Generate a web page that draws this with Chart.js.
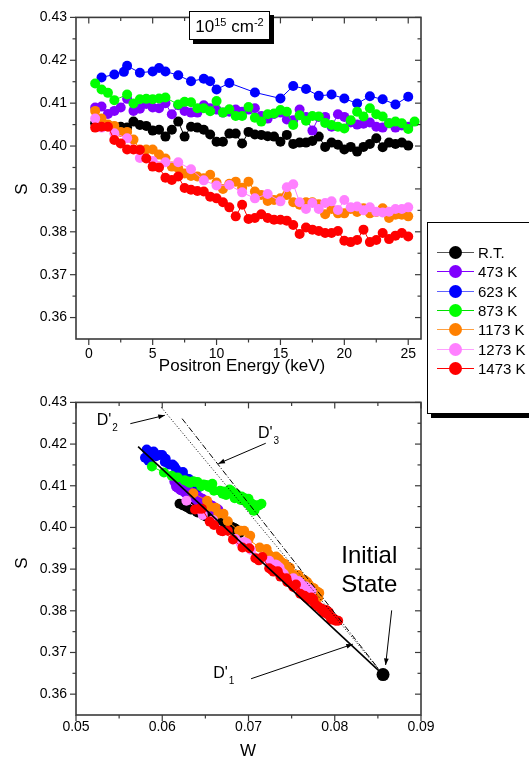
<!DOCTYPE html>
<html>
<head>
<meta charset="utf-8">
<script src="https://cdn.jsdelivr.net/npm/chart.js@4.4.0/dist/chart.umd.min.js"></script>
<style>
body { margin: 0; background: #fff; width: 529px; height: 761px; overflow: hidden; position: relative; font-family: "Liberation Sans", Arial, sans-serif; }
canvas { position: absolute; left: 0; }
#top { top: 0; }
#bottom { top: 385px; }
.box { position: absolute; box-sizing: border-box; border: 1px solid #000; background: #fff; box-shadow: 4px 4px 0 #000; }
#dose { left: 189px; top: 11px; width: 81px; height: 29px; font-size: 17px; line-height: 29px; text-align: center; }
#dose sup { font-size: 11px; vertical-align: 6px; line-height: 0; }
#legend { left: 427px; top: 222px; width: 120px; height: 192px; }
.row { position: absolute; left: 0; height: 19px; }
.row .ln { position: absolute; left: 9px; top: 9px; width: 37px; height: 1px; }
.row .mk { position: absolute; left: 21px; top: 3px; width: 13px; height: 13px; border-radius: 50%; }
.row span { position: absolute; left: 50px; top: 0; font-size: 15px; line-height: 19px; white-space: nowrap; }
</style>
</head>
<body>
<canvas id="top" width="529" height="385"></canvas>
<canvas id="bottom" width="529" height="376"></canvas>
<div id="dose" class="box">10<sup>15</sup> cm<sup>-2</sup></div>
<div id="legend" class="box"></div>
<script>
// tick labels
const energyTicks = [0, 5, 10, 15, 20, 25];
const wTicks = [0.05, 0.06, 0.07, 0.08, 0.09];
const sTicks = [0.36, 0.37, 0.38, 0.39, 0.40, 0.41, 0.42, 0.43];

// positron energy grid (keV) shared by most series
const energyGrid = [0.5,1,1.5,2,2.5,3,3.5,4,4.5,5,5.5,6,6.5,7,7.5,8,8.5,9,9.5,10,10.5,11,11.5,12,12.5,13,13.5,14,14.5,15,15.5,16,16.5,17,17.5,18,18.5,19,19.5,20,20.5,21,21.5,22,22.5,23,23.5,24,24.5,25];

// R.T.
const sRT = [0.4053,0.4049,0.4049,0.4045,0.4045,0.4043,0.4057,0.4049,0.4047,0.4036,0.4038,0.4022,0.4038,0.4057,0.4022,0.4045,0.4043,0.4038,0.4027,0.4010,0.4010,0.4029,0.4029,0.4006,0.4033,0.4027,
  0.4026,0.4023,0.4022,0.4010,0.4026,0.4005,0.4008,0.4008,0.4012,0.4022,0.3998,0.4008,0.4003,0.3992,0.3998,0.3987,0.3998,0.4005,0.4018,0.3997,0.4008,0.4005,0.4008,0.4001];
const wRT = [0.0624,0.0628,0.0634,0.0632,0.0638,0.0635,0.0620,0.0629,0.0636,0.0641,0.0645,0.0655,0.0640,0.0626,0.0661,0.0637,0.0633,0.0644,0.0650,0.0667,0.0673,0.0648,0.0654,0.0671,0.0649,0.0656,
  0.0652,0.0659,0.0656,0.0668,0.0657,0.0677,0.0670,0.0675,0.0666,0.0660,0.0680,0.0674,0.0679,0.0686,0.0684,0.0690,0.0679,0.0673,0.0664,0.0685,0.0669,0.0676,0.0671,0.0681];

// 473 K
const s473 = [0.4090,0.4092,0.4075,0.4082,0.4090,0.4110,0.4082,0.4087,0.4098,0.4090,0.4088,0.4100,0.4074,0.4095,0.4082,0.4078,0.4078,0.4095,0.4088,0.4085,0.4078,0.4080,0.4085,0.4080,0.4085,0.4088,
  0.4070,0.4064,0.4075,0.4078,0.4062,0.4060,0.4085,0.4068,0.4036,0.4068,0.4068,0.4045,0.4074,0.4068,0.4055,0.4050,0.4052,0.4055,0.4045,0.4043,0.4053,0.4043,0.4048,0.4045];
const w473 = [0.0622,0.0629,0.0633,0.0637,0.0630,0.0614,0.0627,0.0632,0.0616,0.0621,0.0624,0.0620,0.0642,0.0618,0.0635,0.0631,0.0639,0.0625,0.0631,0.0626,0.0638,0.0629,0.0634,0.0637,0.0627,0.0623,
  0.0645,0.0641,0.0640,0.0632,0.0651,0.0644,0.0633,0.0646,0.0662,0.0639,0.0644,0.0656,0.0635,0.0647,0.0655,0.0652,0.0658,0.0649,0.0663,0.0658,0.0651,0.0665,0.0654,0.0660];

// 623 K
const e623 = [1,2,2.75,3,4,5,5.5,6,7,8,9,9.5,10,11,13,15,16,17,18,19,20,21,22,23,24,25];
const s623 = [0.4160,0.4167,0.4173,0.4187,0.4171,0.4174,0.4182,0.4174,0.4165,0.4151,0.4157,0.4151,0.4132,0.4147,0.4125,0.4111,0.4140,0.4133,0.4117,0.4120,0.4111,0.4099,0.4116,0.4109,0.4097,0.4115];
const w623 = [0.0584,0.0580,0.0586,0.0582,0.0593,0.0597,0.0590,0.0600,0.0604,0.0608,0.0603,0.0612,0.0620,0.0614,0.0622,0.0630,0.0616,0.0624,0.0629,0.0626,0.0633,0.0641,0.0631,0.0636,0.0643,0.0628];

// 873 K
const e873 = [0.5,1,1.5,2,3,3.5,4,4.5,5,5.5,6,7,7.5,8,8.5,9,9.5,10,10.5,11,11.5,12,12.5,13,13.5,14,14.5,15,15.5,16,16.5,17,17.5,18,18.5,19,19.5,20,20.5,21,21.5,22,22.5,23,23.5,24,24.5,25,25.5];
const s873 = [0.4146,0.4132,0.4124,0.4107,0.4120,0.4099,0.4109,0.4110,0.4109,0.4111,0.4113,0.4097,0.4103,0.4102,0.4088,0.4088,0.4081,0.4105,0.4078,0.4086,0.4070,0.4070,0.4091,0.4066,0.4057,
  0.4074,0.4076,0.4084,0.4080,0.4049,0.4072,0.4059,0.4070,0.4069,0.4054,0.4049,0.4045,0.4041,0.4060,0.4080,0.4069,0.4088,0.4074,0.4069,0.4053,0.4057,0.4053,0.4040,0.4057];
const w873 = [0.0588,0.0602,0.0611,0.0632,0.0618,0.0645,0.0638,0.0630,0.0641,0.0636,0.0626,0.0654,0.0648,0.0651,0.0660,0.0667,0.0670,0.0658,0.0674,0.0671,0.0684,0.0690,0.0678,0.0691,0.0702,
  0.0688,0.0685,0.0681,0.0683,0.0703,0.0693,0.0699,0.0695,0.0697,0.0701,0.0703,0.0705,0.0707,0.0698,0.0686,0.0696,0.0680,0.0692,0.0700,0.0712,0.0704,0.0708,0.0706,0.0715];

// 1173 K
const s1173 = [0.4082,0.4064,0.4050,0.4047,0.4033,0.4033,0.4015,0.3992,0.3992,0.3992,0.3980,0.3971,0.3952,0.3948,0.3936,0.3930,0.3929,0.3925,0.3933,0.3915,0.3900,0.3912,0.3917,0.3903,0.3917,0.3894,
  0.3886,0.3872,0.3874,0.3878,0.3886,0.3869,0.3863,0.3869,0.3869,0.3864,0.3841,0.3853,0.3843,0.3843,0.3853,0.3846,0.3855,0.3843,0.3846,0.3855,0.3832,0.3840,0.3840,0.3836];
const w1173 = [0.0636,0.0652,0.0655,0.0662,0.0665,0.0671,0.0676,0.0689,0.0695,0.0691,0.0702,0.0700,0.0713,0.0721,0.0723,0.0732,0.0727,0.0735,0.0724,0.0739,0.0744,0.0742,0.0733,0.0748,0.0738,0.0747,
  0.0753,0.0761,0.0765,0.0757,0.0758,0.0767,0.0770,0.0763,0.0768,0.0766,0.0779,0.0776,0.0782,0.0777,0.0771,0.0780,0.0775,0.0778,0.0774,0.0769,0.0781,0.0779,0.0776,0.0780];

// 1273 K
const e1273 = [0.5,1,2,3,4,5,6,7,8,9,10,11,12,13,14,15,15.5,16,16.5,17,17.5,18,18.5,19,19.5,20,20.5,21,21.5,22,22.5,23,23.5,24,24.5,25];
const s1273 = [0.4064,0.4043,0.4030,0.4018,0.3972,0.3965,0.3962,0.3962,0.3946,0.3920,0.3908,0.3909,0.3892,0.3878,0.3888,0.3871,
  0.3904,0.3911,0.3869,0.3853,0.3867,0.3853,0.3867,0.3871,0.3851,0.3874,0.3857,0.3859,0.3850,0.3857,0.3847,0.3845,0.3847,0.3853,0.3853,0.3857];
const w1273 = [0.0628,0.0642,0.0647,0.0659,0.0685,0.0695,0.0691,0.0698,0.0703,0.0724,0.0728,0.0733,0.0739,0.0752,0.0741,0.0757,
  0.0736,0.0731,0.0754,0.0769,0.0760,0.0764,0.0756,0.0758,0.0771,0.0750,0.0762,0.0766,0.0767,0.0761,0.0773,0.0770,0.0768,0.0765,0.0769,0.0763];

// 1473 K
const s1473 = [0.4043,0.4045,0.4045,0.4014,0.4006,0.3992,0.3992,0.3991,0.3971,0.3952,0.3950,0.3926,0.3921,0.3929,0.3902,0.3898,0.3895,0.3894,0.3882,0.3878,0.3869,0.3857,0.3836,0.3863,0.3830,
  0.3832,0.3841,0.3832,0.3828,0.3828,0.3826,0.3816,0.3795,0.3810,0.3805,0.3802,0.3797,0.3797,0.3802,0.3779,0.3776,0.3781,0.3805,0.3776,0.3781,0.3797,0.3783,0.3791,0.3797,0.3789];
const w1473 = [0.0638,0.0643,0.0646,0.0655,0.0660,0.0668,0.0676,0.0670,0.0682,0.0693,0.0701,0.0708,0.0712,0.0716,0.0724,0.0727,0.0734,0.0729,0.0737,0.0744,0.0745,0.0752,0.0765,0.0755,0.0768,
  0.0773,0.0760,0.0767,0.0775,0.0770,0.0772,0.0777,0.0789,0.0781,0.0784,0.0786,0.0788,0.0793,0.0790,0.0796,0.0804,0.0799,0.0785,0.0801,0.0796,0.0789,0.0797,0.0792,0.0787,0.0794];

// initial state and the three D' lines in the S-W plane
const initialW = [0.0856], initialS = [0.3647];
const d1W = [0.0572, 0.0856], d1S = [0.4194, 0.3647];
const d2W = [0.0599, 0.0856], d2S = [0.4288, 0.3647];
const d3W = [0.0623, 0.0856], d3S = [0.4261, 0.3647];

const series = [
  { label: 'R.T.',   color: '#000000', line: '#555555', e: energyGrid, s: sRT,   w: wRT },
  { label: '473 K',  color: '#8000ff', line: '#8000ff', e: energyGrid, s: s473,  w: w473 },
  { label: '623 K',  color: '#0000ff', line: '#6060ff', e: e623,       s: s623,  w: w623 },
  { label: '873 K',  color: '#00ff00', line: '#00e000', e: e873,       s: s873,  w: w873 },
  { label: '1173 K', color: '#ff8000', line: '#ffa040', e: energyGrid, s: s1173, w: w1173 },
  { label: '1273 K', color: '#ff80ff', line: '#ffa0ff', e: e1273,      s: s1273, w: w1273 },
  { label: '1473 K', color: '#ff0000', line: '#ff0000', e: energyGrid, s: s1473, w: w1473 }
];

const FONT = '"Liberation Sans", Arial, sans-serif';
const zip = (xs, ys) => xs.map((v, i) => ({ x: v, y: ys[i] }));
const mids = arr => arr.slice(1).map((v, i) => (v + arr[i]) / 2);

// box, tick marks (outward left/bottom, inward top/right) and axis titles
const frame = {
  id: 'frame',
  afterDraw(chart, args, o) {
    const { ctx, chartArea: a, scales: { x, y } } = chart;
    ctx.save();
    ctx.strokeStyle = '#3a3a3a';
    ctx.lineWidth = 1.6;
    ctx.strokeRect(a.left, a.top, a.right - a.left, a.bottom - a.top);
    ctx.lineWidth = 1.2;
    const seg = (x1, y1, x2, y2) => { ctx.beginPath(); ctx.moveTo(x1, y1); ctx.lineTo(x2, y2); ctx.stroke(); };
    [[o.xTicks, 6], [mids(o.xTicks), 3.5]].forEach(([vals, len]) => vals.forEach(v => {
      const p = x.getPixelForValue(v);
      seg(p, a.bottom, p, a.bottom + len);
      seg(p, a.top, p, a.top + len);
    }));
    [[sTicks, 6], [mids(sTicks), 3.5]].forEach(([vals, len]) => vals.forEach(v => {
      const p = y.getPixelForValue(v);
      seg(a.left - len, p, a.left, p);
      seg(a.right - len, p, a.right, p);
    }));
    ctx.fillStyle = '#000';
    ctx.font = '17px ' + FONT;
    ctx.textAlign = 'center';
    ctx.textBaseline = 'middle';
    ctx.fillText(o.xTitle, o.xTitleAt[0], o.xTitleAt[1]);
    ctx.translate(o.yTitleAt[0], o.yTitleAt[1]);
    ctx.rotate(-Math.PI / 2);
    ctx.fillText('S', 0, 0);
    ctx.restore();
  }
};

// D' labels, arrows and the "Initial State" note (data coordinates)
const dLabels = [
  { w: 0.0524, s: 0.4257, sub: '2' },
  { w: 0.0711, s: 0.4225, sub: '3' },
  { w: 0.0659, s: 0.3650, sub: '1' }
];
const arrows = [
  [0.0563, 0.4249, 0.0603, 0.4269],
  [0.0720, 0.4202, 0.0665, 0.4153],
  [0.0703, 0.3637, 0.0821, 0.3720],
  [0.0866, 0.3801, 0.0859, 0.3670]
];
const noteW = 0.0840, noteS = [0.3930, 0.3860];

const notes = {
  id: 'notes',
  afterDraw(chart) {
    const { ctx, scales: { x, y } } = chart;
    ctx.save();
    ctx.strokeStyle = '#000';
    ctx.fillStyle = '#000';
    ctx.lineWidth = 1;
    arrows.forEach(([w1, s1, w2, s2]) => {
      const x1 = x.getPixelForValue(w1), y1 = y.getPixelForValue(s1);
      const x2 = x.getPixelForValue(w2), y2 = y.getPixelForValue(s2);
      const ang = Math.atan2(y2 - y1, x2 - x1);
      ctx.beginPath(); ctx.moveTo(x1, y1); ctx.lineTo(x2, y2); ctx.stroke();
      ctx.beginPath();
      ctx.moveTo(x2, y2);
      ctx.lineTo(x2 - 7 * Math.cos(ang - 0.35), y2 - 7 * Math.sin(ang - 0.35));
      ctx.lineTo(x2 - 7 * Math.cos(ang + 0.35), y2 - 7 * Math.sin(ang + 0.35));
      ctx.closePath(); ctx.fill();
    });
    ctx.textAlign = 'left';
    ctx.textBaseline = 'middle';
    dLabels.forEach(d => {
      const px = x.getPixelForValue(d.w), py = y.getPixelForValue(d.s);
      ctx.font = '16px ' + FONT;
      ctx.fillText("D'", px, py);
      const tw = ctx.measureText("D'").width;
      ctx.font = '10px ' + FONT;
      ctx.fillText(d.sub, px + tw + 1, py + 8);
    });
    ctx.font = '24px ' + FONT;
    ctx.textAlign = 'center';
    ctx.fillText('Initial', x.getPixelForValue(noteW), y.getPixelForValue(noteS[0]));
    ctx.fillText('State', x.getPixelForValue(noteW), y.getPixelForValue(noteS[1]));
    ctx.restore();
  }
};

function axes(xMin, xMax, xTicks, xFmt, xPad) {
  return {
    x: {
      type: 'linear', min: xMin, max: xMax,
      afterBuildTicks: s => { s.ticks = xTicks.map(v => ({ value: v })); },
      afterFit: s => { s.height = 46; },
      grid: { display: false, drawTicks: false }, border: { display: false },
      ticks: { callback: xFmt, padding: xPad, maxRotation: 0, autoSkip: false, color: '#000', font: { family: FONT, size: 14 } }
    },
    y: {
      type: 'linear', min: 0.355, max: 0.43,
      afterBuildTicks: s => { s.ticks = sTicks.map(v => ({ value: v })); },
      afterFit: s => { s.width = 76; },
      grid: { display: false, drawTicks: false }, border: { display: false },
      ticks: { callback: v => v.toFixed(2), padding: 9, autoSkip: false, color: '#000', font: { family: FONT, size: 14 } }
    }
  };
}

const basePlugins = { legend: { display: false }, tooltip: { enabled: false } };

const topSets = series.map((d, i) => ({
  label: d.label, data: zip(d.e, d.s), showLine: true,
  borderColor: d.color, borderWidth: 1, backgroundColor: d.color,
  pointRadius: 5, pointBorderWidth: 0, order: 10 - i
}));

new Chart(document.getElementById('top'), {
  type: 'scatter',
  data: { datasets: topSets },
  options: {
    responsive: false, animation: false, events: [],
    layout: { padding: { top: 17, right: 108, left: 0, bottom: 0 } },
    scales: axes(-1, 26, energyTicks, v => String(v), 7),
    plugins: Object.assign({}, basePlugins, {
      frame: { xTicks: energyTicks, xTitle: 'Positron Energy (keV)', xTitleAt: [242, 366], yTitleAt: [22, 189] }
    })
  },
  plugins: [frame]
});

const bottomSets = series.map((d, i) => ({
  label: d.label, data: zip(d.w, d.s), showLine: true,
  borderColor: d.color, borderWidth: 1, backgroundColor: d.color,
  pointRadius: 5, pointBorderWidth: 0, order: 10 - i
}));
bottomSets.push(
  { label: "D'1", data: zip(d1W, d1S), showLine: true, borderColor: '#000', borderWidth: 1.6, pointRadius: 0, order: 1 },
  { label: "D'2", data: zip(d2W, d2S), showLine: true, borderColor: '#000', borderWidth: 1, borderDash: [1, 2], pointRadius: 0, order: 1 },
  { label: "D'3", data: zip(d3W, d3S), showLine: true, borderColor: '#000', borderWidth: 1, borderDash: [6, 2, 1, 2], pointRadius: 0, order: 1 },
  { label: 'Initial State', data: zip(initialW, initialS), backgroundColor: '#000', pointRadius: 6.5, pointBorderWidth: 0, order: 0 }
);

new Chart(document.getElementById('bottom'), {
  type: 'scatter',
  data: { datasets: bottomSets },
  options: {
    responsive: false, animation: false, events: [],
    layout: { padding: { top: 9, right: 108, left: 0, bottom: 0 } },
    scales: axes(0.05, 0.09, wTicks, v => v.toFixed(2), 4),
    plugins: Object.assign({}, basePlugins, {
      frame: { xTicks: wTicks, xTitle: 'W', xTitleAt: [248, 366], yTitleAt: [22, 178] }
    })
  },
  plugins: [frame, notes]
});

// legend box
const legend = document.getElementById('legend');
series.forEach((d, i) => {
  const row = document.createElement('div');
  row.className = 'row';
  row.style.top = (20 + i * 19.3) + 'px';
  row.innerHTML = '<div class="ln" style="background:' + d.line + '"></div>' +
    '<div class="mk" style="background:' + d.color + '"></div><span>' + d.label + '</span>';
  legend.appendChild(row);
});
</script>
</body>
</html>
